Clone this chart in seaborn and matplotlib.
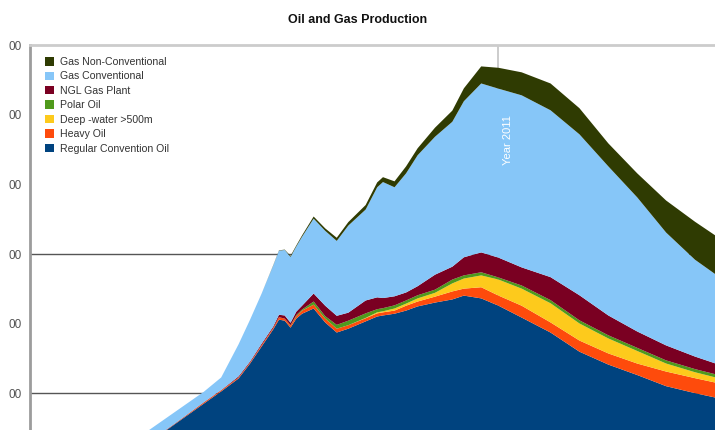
import numpy as np
import pandas as pd
import matplotlib
matplotlib.use('Agg')
import matplotlib.pyplot as plt
from matplotlib.patches import Patch
import seaborn as sns

# ---------------------------------------------------------------------------
# Data
# ---------------------------------------------------------------------------
YEARS = [1950, 1955, 1960, 1963, 1966, 1968, 1970, 1972, 1973, 1974, 1975,
         1976, 1977, 1979, 1981, 1983, 1985, 1988, 1990, 1991, 1993, 1995,
         1997, 2000, 2003, 2005, 2008, 2011, 2015, 2020, 2025, 2030, 2035,
         2040, 2045, 2050]

REGULAR_OIL = [270, 565, 860, 1035, 1220, 1435, 1680, 1925, 2065, 2050, 1950,
               2080, 2150, 2225, 2025, 1880, 1935, 2040, 2110, 2125, 2150, 2195,
               2255, 2310, 2355, 2410, 2370, 2265, 2095, 1880, 1605, 1420, 1270,
               1110, 1010, 920]
HEAVY_OIL = [5, 5, 15, 15, 15, 15, 20, 20, 35, 30, 30,
             35, 45, 55, 55, 55, 50, 45, 45, 45, 45, 70,
             70, 85, 115, 100, 160, 145, 170, 145, 160, 160, 165,
             210, 215, 215]
DEEP_WATER = [0, 0, 0, 0, 0, 0, 0, 0, 0, 0, 0,
              0, 0, 0, 0, 0, 0, 5, 15, 15, 30, 30,
              45, 55, 115, 145, 170, 230, 245, 275, 245, 215, 180,
              115, 85, 70]
POLAR_OIL = [0, 0, 0, 0, 0, 0, 0, 0, 0, 0, 5,
             15, 15, 45, 35, 55, 65, 65, 45, 45, 45, 45,
             45, 45, 55, 45, 45, 30, 45, 45, 45, 45, 45,
             45, 45, 45]
NGL = [5, 5, 5, 5, 15, 15, 20, 20, 35, 45, 35,
       50, 55, 115, 150, 130, 115, 185, 170, 145, 130, 115,
       130, 215, 185, 260, 285, 285, 260, 330, 360, 285, 235,
       215, 180, 145]
GAS_CONV = [170, 165, 150, 180, 460, 600, 720, 875, 920, 940, 945,
            935, 990, 1075, 1075, 1075, 1250, 1305, 1580, 1665, 1565, 1710,
            1880, 1980, 2080, 2240, 2425, 2425, 2470, 2395, 2310, 2140, 1925,
            1620, 1390, 1235]
GAS_NONCONV = [0, 0, 0, 0, 0, 0, 0, 5, 5, 5, 15,
               15, 20, 30, 35, 45, 50, 65, 70, 70, 85, 100,
               100, 130, 160, 185, 245, 300, 330, 385, 375, 330, 345,
               460, 545, 560]

SERIES = ['Regular Convention Oil', 'Heavy Oil', 'Deep -water >500m',
          'Polar Oil', 'NGL Gas Plant', 'Gas Conventional',
          'Gas Non-Conventional']
COLORS = ['#00437f', '#fe4b0c', '#fdca1c', '#4f9a1c', '#7a0022',
          '#86c6f8', '#2f3b02']

YTICKS = [1000, 2000, 3000, 4000, 5000, 6000]
YTICK_LABELS = ['00', '00', '00', '00', '00', '00']
GRID_VALUES = [1000, 3000]
MARK_YEAR = 2011

df = pd.DataFrame({
    'year': YEARS,
    SERIES[0]: REGULAR_OIL,
    SERIES[1]: HEAVY_OIL,
    SERIES[2]: DEEP_WATER,
    SERIES[3]: POLAR_OIL,
    SERIES[4]: NGL,
    SERIES[5]: GAS_CONV,
    SERIES[6]: GAS_NONCONV,
})

# ---------------------------------------------------------------------------
# Plot
# ---------------------------------------------------------------------------
sns.set_theme(style='white')
plt.rcParams['font.family'] = ['Liberation Sans', 'DejaVu Sans']

fig = plt.figure(figsize=(7.15, 4.3), dpi=100)
# axes runs past the right and bottom edges, like the cropped original
ax = fig.add_axes([30 / 715, 1 - 463 / 430, 693.4 / 715, 418 / 430])

for g in GRID_VALUES:
    ax.axhline(g, color='#555555', lw=1.0, zorder=0.5)
ax.axvline(MARK_YEAR, color='#c4c4c4', lw=1.2, zorder=0.5)

ax.stackplot(df['year'], [df[s] for s in SERIES], colors=COLORS,
             linewidth=0, zorder=1)

ax.set_xlim(1930, 2050)
ax.set_ylim(0, 6000)

ax.set_yticks(YTICKS)
ax.set_yticklabels(YTICK_LABELS)
ax.set_yticks(GRID_VALUES, minor=True)
ax.tick_params(axis='y', which='major', length=0, pad=6, labelsize=8.5,
               labelcolor='#555555')
ax.tick_params(axis='y', which='minor', left=True, length=4, width=1,
               color='#555555')
ax.set_xticks([])

for side in ['right', 'bottom']:
    ax.spines[side].set_visible(False)
ax.spines['left'].set_color('#9c9c9c')
ax.spines['left'].set_linewidth(2)
ax.spines['top'].set_color('#cccccc')
ax.spines['top'].set_linewidth(2)

ax.text(MARK_YEAR + 1.7, 4635, 'Year 2011', rotation=90, color='white',
        fontsize=8, ha='center', va='center', zorder=3)

handles = [Patch(facecolor=c, edgecolor='none') for c in COLORS[::-1]]
ax.legend(handles, SERIES[::-1], loc='upper left', frameon=False,
          bbox_to_anchor=(45 / 715, 1 - 57 / 430),
          bbox_transform=fig.transFigure, borderpad=0, borderaxespad=0,
          fontsize=7.6, handlelength=0.85, handleheight=0.85,
          handletextpad=0.6, labelspacing=0.42, labelcolor='#333333')

fig.text(358 / 715, 1 - 20 / 430, 'Oil and Gas Production', ha='center',
         va='center', fontsize=9, fontweight='bold', color='#111111')

fig.savefig('out.png', dpi=100, facecolor='white')
